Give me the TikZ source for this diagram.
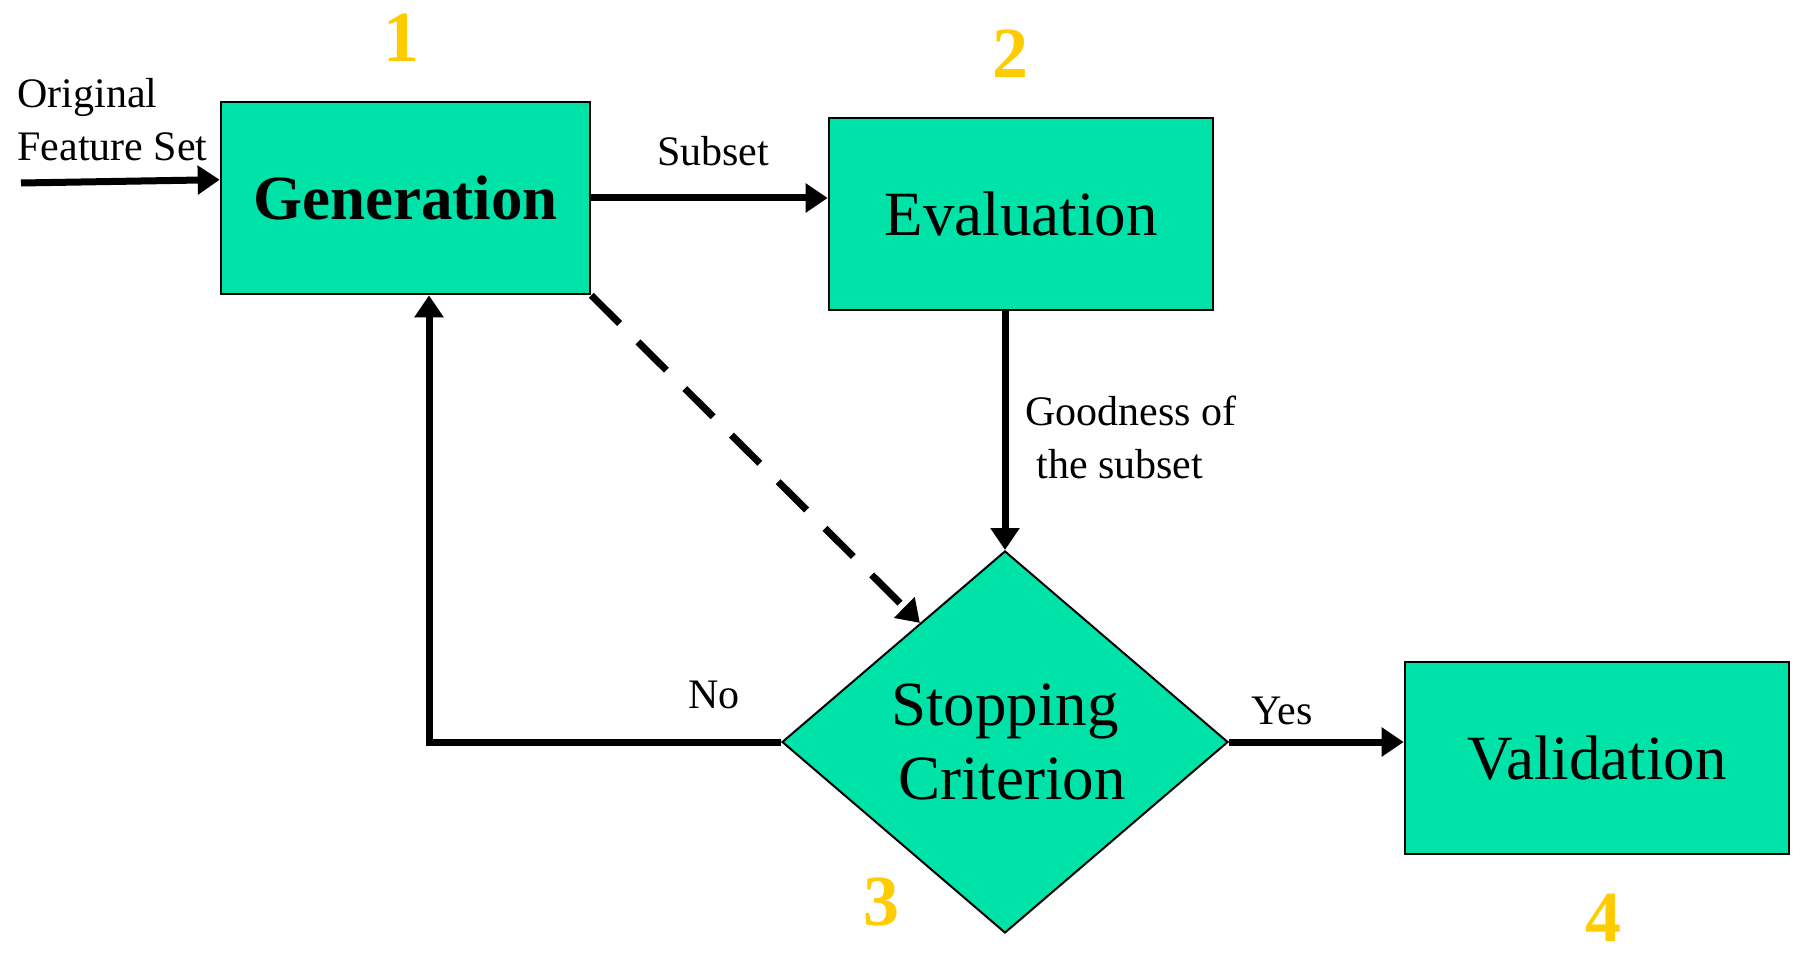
\documentclass[tikz,border=0pt]{standalone}
\usepackage{fontspec}
\setmainfont{Liberation Serif}
\usetikzlibrary{arrows.meta,shapes.geometric,calc}
\definecolor{boxgreen}{RGB}{0,227,168}
\definecolor{stepgold}{RGB}{255,204,0}

\begin{document}
\begin{tikzpicture}[x=0.5pt,y=-0.5pt,
  box/.style={draw=black, line width=1.3pt, fill=boxgreen, minimum width=192pt,
    minimum height=96pt, inner sep=0pt, font=\fontsize{31.5}{37}\selectfont},
  decision/.style={diamond, draw=black, line width=1pt, fill=boxgreen,
    minimum width=223pt, minimum height=191pt, inner sep=0pt, aspect=1.17,
    align=center, font=\fontsize{31.5}{37}\selectfont},
  flow/.style={line width=3.5pt, -{Triangle[length=11pt,width=14pt]}},
  lbl/.style={font=\fontsize{21}{26.5}\selectfont, inner sep=0pt},
  stepnum/.style={text=stepgold, font=\fontsize{36}{40}\selectfont\bfseries, inner sep=0pt},
]
\useasboundingbox (0,0) rectangle (1795,957);

% process blocks
\node[box, minimum width=184.5pt] (gen) at (405.5,198) {\bfseries Generation};
\node[box] (eval) at (1021,214) {Evaluation};
\node[decision] (stop) at (1005,742) {Stopping\\\hspace*{7pt}Criterion};
\node[box] (val) at (1597,758) {Validation};

% step numbers
\node[stepnum] (n1) at (401,38) {1};
\node[stepnum] (n2) at (1010,54) {2};
\node[stepnum] (n3) at (881,902) {3};
\node[stepnum] (n4) at (1603,918) {4};

% input feature set
\coordinate (inS) at (21,183);
\draw[flow] (inS) -- ($(gen.north west)+(0,79)$);
\node[lbl, align=left, anchor=west] (orig) at (17,120) {Original\\Feature Set};

% subset to evaluation
\draw[flow] (gen.east) -- (gen.east -| eval.west);
\node[lbl] (subsetlbl) at (713,151) {Subset};

% goodness to stopping criterion
\draw[flow] (stop.north |- eval.south) -- (stop.north);
\node[lbl, align=left, anchor=west] (good) at (1025,437) {Goodness of\\\hspace*{5.5pt}the subset};

% dashed shortcut
\coordinate (dashend) at ($(stop.north)!0.38!(stop.west)$);
\draw[flow, dash pattern=on 20pt off 13pt] (gen.south east) -- (dashend);

% loop back on "No"
\coordinate (nocorner) at (429,742);
\draw[flow] (stop.west) -- (nocorner) -- (nocorner |- gen.south);
\node[lbl] (nolbl) at (714,695) {No};

% "Yes" to validation
\draw[flow] (stop.east) -- (stop.east -| val.west);
\node[lbl] (yeslbl) at (1282,711) {Yes};
\end{tikzpicture}
\end{document}
